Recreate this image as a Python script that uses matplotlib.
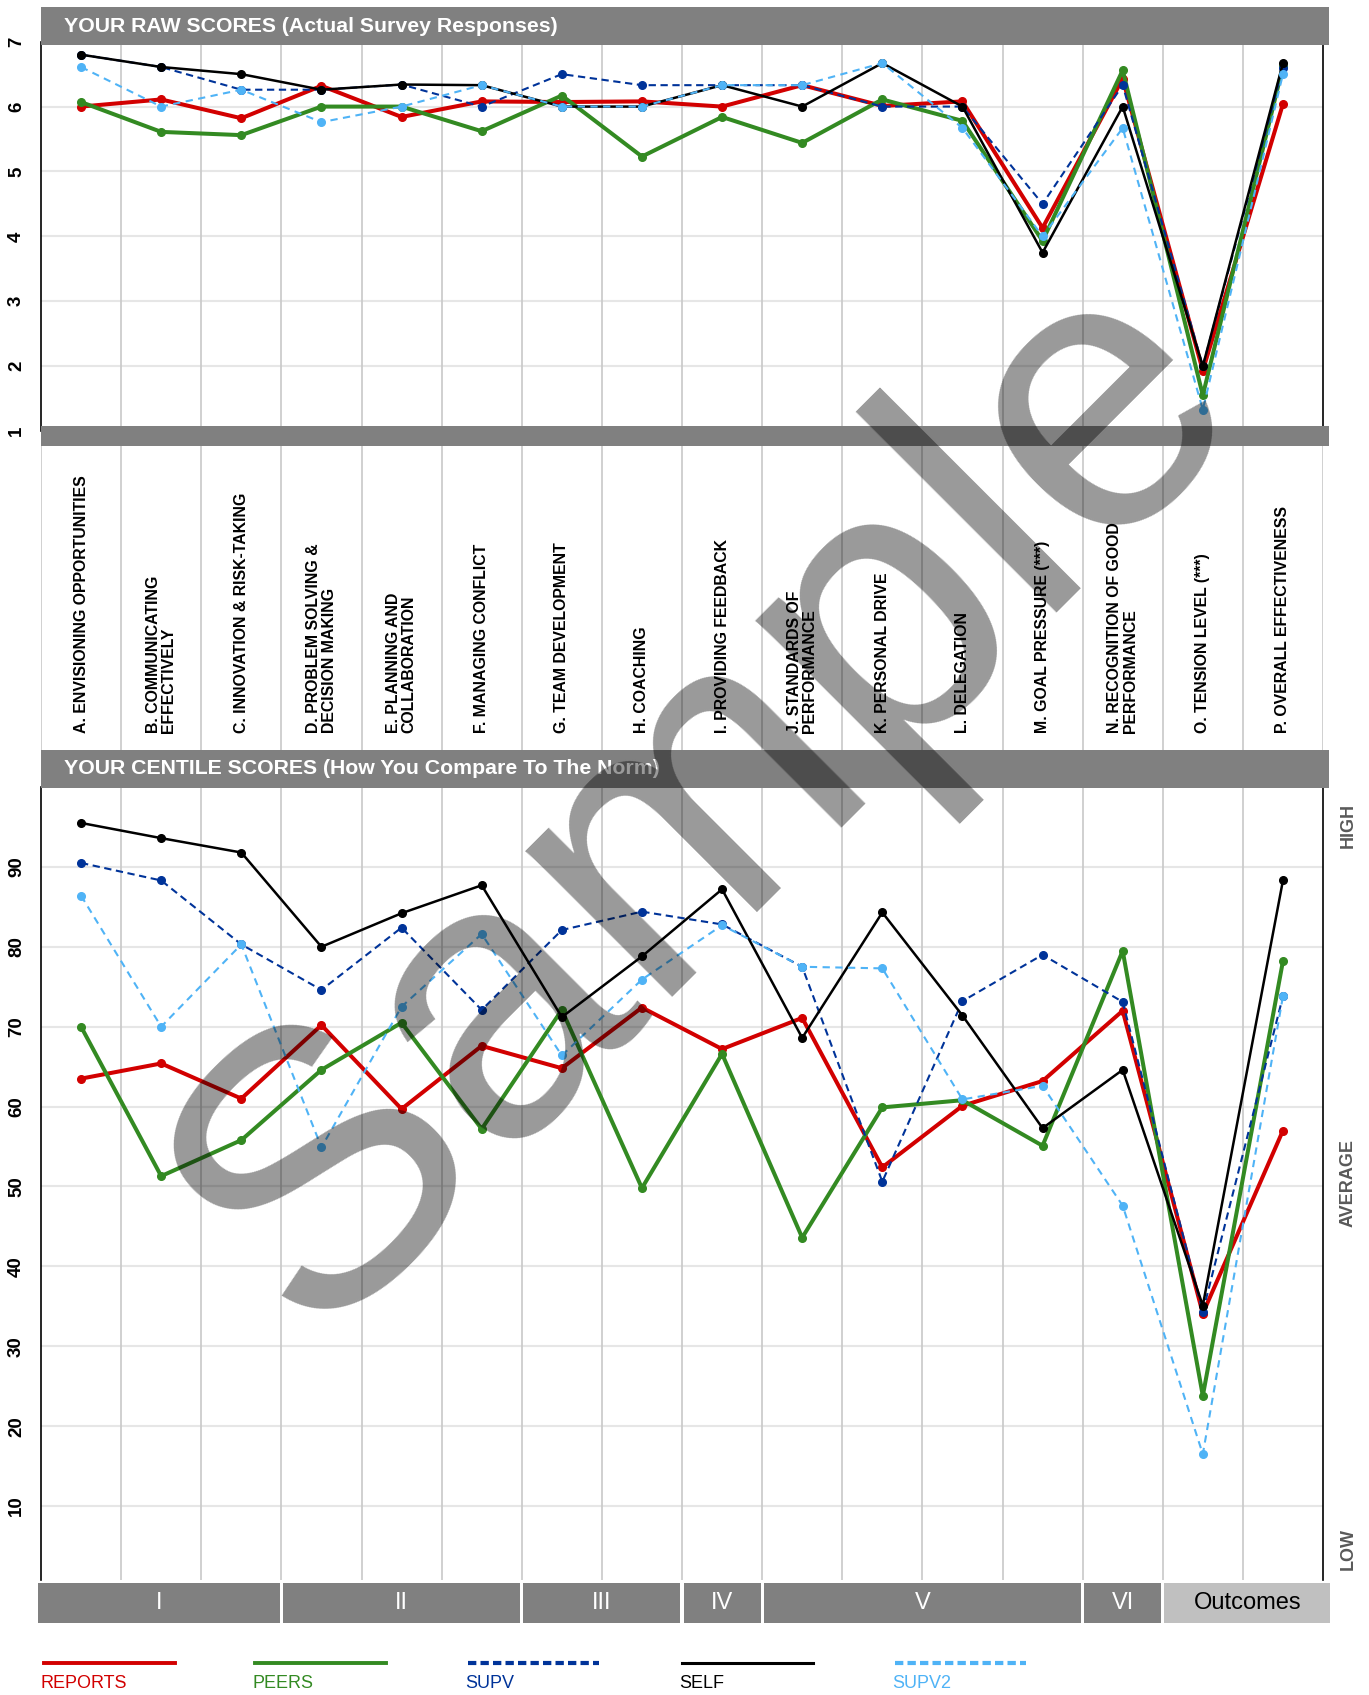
import numpy as np
import matplotlib
matplotlib.use("Agg")
import matplotlib.pyplot as plt
from matplotlib.patches import Rectangle
from matplotlib.lines import Line2D

plt.rcParams['font.family'] = ['Liberation Sans', 'DejaVu Sans']

## Competency names (x categories)
categories = ["A. ENVISIONING OPPORTUNITIES", "B. COMMUNICATING\nEFFECTIVELY",
              "C. INNOVATION & RISK-TAKING", "D. PROBLEM SOLVING &\nDECISION MAKING",
              "E. PLANNING AND\nCOLLABORATION", "F. MANAGING CONFLICT",
              "G. TEAM DEVELOPMENT", "H. COACHING", "I. PROVIDING FEEDBACK",
              "J. STANDARDS OF\nPERFORMANCE", "K. PERSONAL DRIVE", "L. DELEGATION",
              "M. GOAL PRESSURE (***)", "N. RECOGNITION OF GOOD\nPERFORMANCE",
              "O. TENSION LEVEL (***)", "P. OVERALL EFFECTIVENESS"]

## Groups along the bottom
groups = ["I", "II", "III", "IV", "V", "VI", "Outcomes"]
group_sizes = [3, 3, 2, 1, 4, 1, 2]

## Raw scores (1-7)
reports_raw = [6.0, 6.11, 5.82, 6.32, 5.84, 6.08, 6.07, 6.08, 6.0, 6.33, 6.01, 6.08, 4.13, 6.43, 1.93, 6.04]
peers_raw = [6.07, 5.61, 5.56, 6.0, 6.0, 5.62, 6.17, 5.23, 5.84, 5.44, 6.11, 5.78, 3.93, 6.56, 1.55, 6.62]
supv_raw = [6.80, 6.61, 6.26, 6.26, 6.34, 6.0, 6.5, 6.33, 6.33, 6.33, 6.0, 6.0, 4.50, 6.33, 2.0, 6.60]
self_raw = [6.80, 6.61, 6.50, 6.26, 6.34, 6.33, 6.0, 6.0, 6.33, 6.0, 6.67, 6.0, 3.75, 6.0, 2.0, 6.67]
supv2_raw = [6.61, 6.0, 6.26, 5.76, 6.0, 6.33, 6.0, 6.0, 6.33, 6.33, 6.67, 5.67, 4.0, 5.67, 1.33, 6.5]

## Centile scores (0-100)
reports_cen = [63.5, 65.4, 61.0, 70.2, 59.7, 67.6, 64.8, 72.4, 67.2, 71.1, 52.4, 60.1, 63.2, 72.0, 34.1, 57.0]
peers_cen = [70.0, 51.3, 55.8, 64.6, 70.5, 57.2, 72.1, 49.8, 66.6, 43.6, 59.9, 60.8, 55.1, 79.5, 23.8, 78.2]
supv_cen = [90.5, 88.3, 80.3, 74.6, 82.4, 72.1, 82.1, 84.4, 82.8, 77.5, 50.6, 73.2, 79.0, 73.1, 34.3, 73.8]
self_cen = [95.5, 93.6, 91.8, 80.0, 84.2, 87.7, 71.2, 78.8, 87.2, 68.6, 84.3, 71.4, 57.3, 64.6, 35.1, 88.3]
supv2_cen = [86.4, 70.0, 80.3, 54.9, 72.5, 81.6, 66.4, 75.9, 82.7, 77.5, 77.3, 60.9, 62.6, 47.6, 16.5, 73.8]

series_names = ["REPORTS", "PEERS", "SUPV", "SELF", "SUPV2"]

## styles per series
styles = {
    "REPORTS": dict(color="#d20000", lw=2.9, ms=5.5, dashes=None),
    "PEERS": dict(color="#338a22", lw=2.9, ms=5.5, dashes=None),
    "SUPV": dict(color="#003399", lw=1.5, ms=5.5, dashes=(3.5, 2.2)),
    "SELF": dict(color="black", lw=1.8, ms=5.5, dashes=None),
    "SUPV2": dict(color="#4fb3f6", lw=1.5, ms=5.5, dashes=(3.5, 2.6)),
}
raw_data = {"REPORTS": reports_raw, "PEERS": peers_raw, "SUPV": supv_raw,
            "SELF": self_raw, "SUPV2": supv2_raw}
cen_data = {"REPORTS": reports_cen, "PEERS": peers_cen, "SUPV": supv_cen,
            "SELF": self_cen, "SUPV2": supv2_cen}

W, H = 1369, 1695
fig = plt.figure(figsize=(W / 100, H / 100), dpi=100)
GRAY = "#808080"


def box(x0, y0, x1, y1):
    # pixel box (top-left origin) -> figure fraction
    return [x0 / W, 1 - y1 / H, (x1 - x0) / W, (y1 - y0) / H]


def bar(x0, y0, x1, y1, color):
    r = Rectangle((x0 / W, 1 - y1 / H), (x1 - x0) / W, (y1 - y0) / H,
                  transform=fig.transFigure, color=color, zorder=2, lw=0)
    fig.add_artist(r)


x = np.arange(len(categories))
bounds = np.arange(-0.5, len(categories) + 0.5, 1)


def style_axis(ax, ylim, yticks):
    ax.set_xlim(-0.5, 15.5)
    ax.set_ylim(*ylim)
    ax.set_xticks([])
    ax.set_yticks(yticks)
    ax.set_yticklabels([str(t) for t in yticks], fontsize=13.5, fontweight='bold',
                       rotation=90, va='center')
    ax.tick_params(axis='y', length=0, pad=11.5)
    for t in yticks:
        ax.axhline(t, color="#e6e6e6", lw=1.5, zorder=0)
    for b in bounds[1:-1]:
        ax.axvline(b, color="#c8c8c8", lw=1.2, zorder=0)
    for s in ['top', 'bottom']:
        ax.spines[s].set_visible(False)
    ax.spines['left'].set_linewidth(1.2)
    ax.spines['right'].set_linewidth(1.2)


def draw_series(ax, data):
    for name in series_names:
        st = styles[name]
        line, = ax.plot(x, data[name], color=st["color"], lw=st["lw"], marker='o',
                        ms=st["ms"], clip_on=False, zorder=3)
        if st["dashes"]:
            line.set_dashes(st["dashes"])


## raw scores chart
ax1 = fig.add_axes(box(41, 41.7, 1323, 431))
style_axis(ax1, (1, 7), list(range(1, 8)))
draw_series(ax1, raw_data)
bar(41, 7, 1329, 45, GRAY)
bar(41, 426, 1329, 446, GRAY)
fig.text(64 / W, 1 - 26 / H, "YOUR RAW SCORES (Actual Survey Responses)", color='white',
         fontsize=15.3, fontweight='bold', va='center', zorder=3)

## category labels strip
axl = fig.add_axes(box(41, 446, 1323, 750))
axl.set_xlim(-0.5, 15.5)
axl.set_ylim(0, 1)
axl.axis('off')
for b in bounds:
    axl.axvline(b, color="#c8c8c8", lw=1.2)
for i, lab in enumerate(categories):
    axl.text(i, (750 - 733) / 304, lab, rotation=90, ha='center', va='bottom',
             multialignment='left', fontsize=11.4, fontweight='bold', linespacing=1.05)

## centile chart
ax2 = fig.add_axes(box(41, 787, 1323, 1580))
style_axis(ax2, ((1586 - 1580) / 8, 100), list(range(10, 100, 10)))
draw_series(ax2, cen_data)
bar(41, 750, 1329, 788, GRAY)
fig.text(64 / W, 1 - 769 / H, "YOUR CENTILE SCORES (How You Compare To The Norm)",
         color='white', fontsize=15.3, fontweight='bold', va='center', zorder=3)

for lab, yc in [("HIGH", 825), ("AVERAGE", 1183), ("LOW", 1549)]:
    fig.text(1348 / W, 1 - yc / H, lab, rotation=90, ha='center', va='center',
             fontsize=13, fontweight='bold', color='#595959')

## group bar at the bottom
axg = fig.add_axes(box(41, 1583, 1323, 1623))
axg.set_xlim(-0.5, 15.5)
axg.set_ylim(0, 1)
axg.axis('off')
start = -0.5
gap = 0.02
for k, (g, n) in enumerate(zip(groups, group_sizes)):
    end = start + n
    x0 = start + gap if k > 0 else start - 0.035
    x1 = end - gap if k < len(groups) - 1 else end + 0.09
    outc = (g == "Outcomes")
    axg.add_patch(Rectangle((x0, 0), x1 - x0, 1, color="#c0c0c0" if outc else GRAY,
                            lw=0, clip_on=False))
    axg.text((x0 + x1) / 2, 0.5, g, ha='center', va='center', fontsize=17,
             color='black' if outc else 'white')
    start = end

## legend
leg_x = [44, 255, 468, 682, 895]
for name, lx in zip(series_names, leg_x):
    st = styles[name]
    ln = Line2D([lx / W, (lx + 131) / W], [1 - 1663 / H, 1 - 1663 / H],
                transform=fig.transFigure, color=st["color"],
                lw=2.8 if name in ("REPORTS", "PEERS") else (2.2 if name == "SELF" else 3.0))
    if st["dashes"]:
        ln.set_dashes((2.0, 1.0))
    fig.add_artist(ln)
    fig.text((lx - 3) / W, 1 - 1684 / H, name, color=st["color"], fontsize=13,
             va='center', ha='left')

## watermark
fig.text(708 / W, 1 - 800 / H, "Sample", rotation=45, rotation_mode='anchor',
         ha='center', va='center', fontsize=282, color='black', alpha=0.4, zorder=10)

fig.savefig("out.png", dpi=100)
